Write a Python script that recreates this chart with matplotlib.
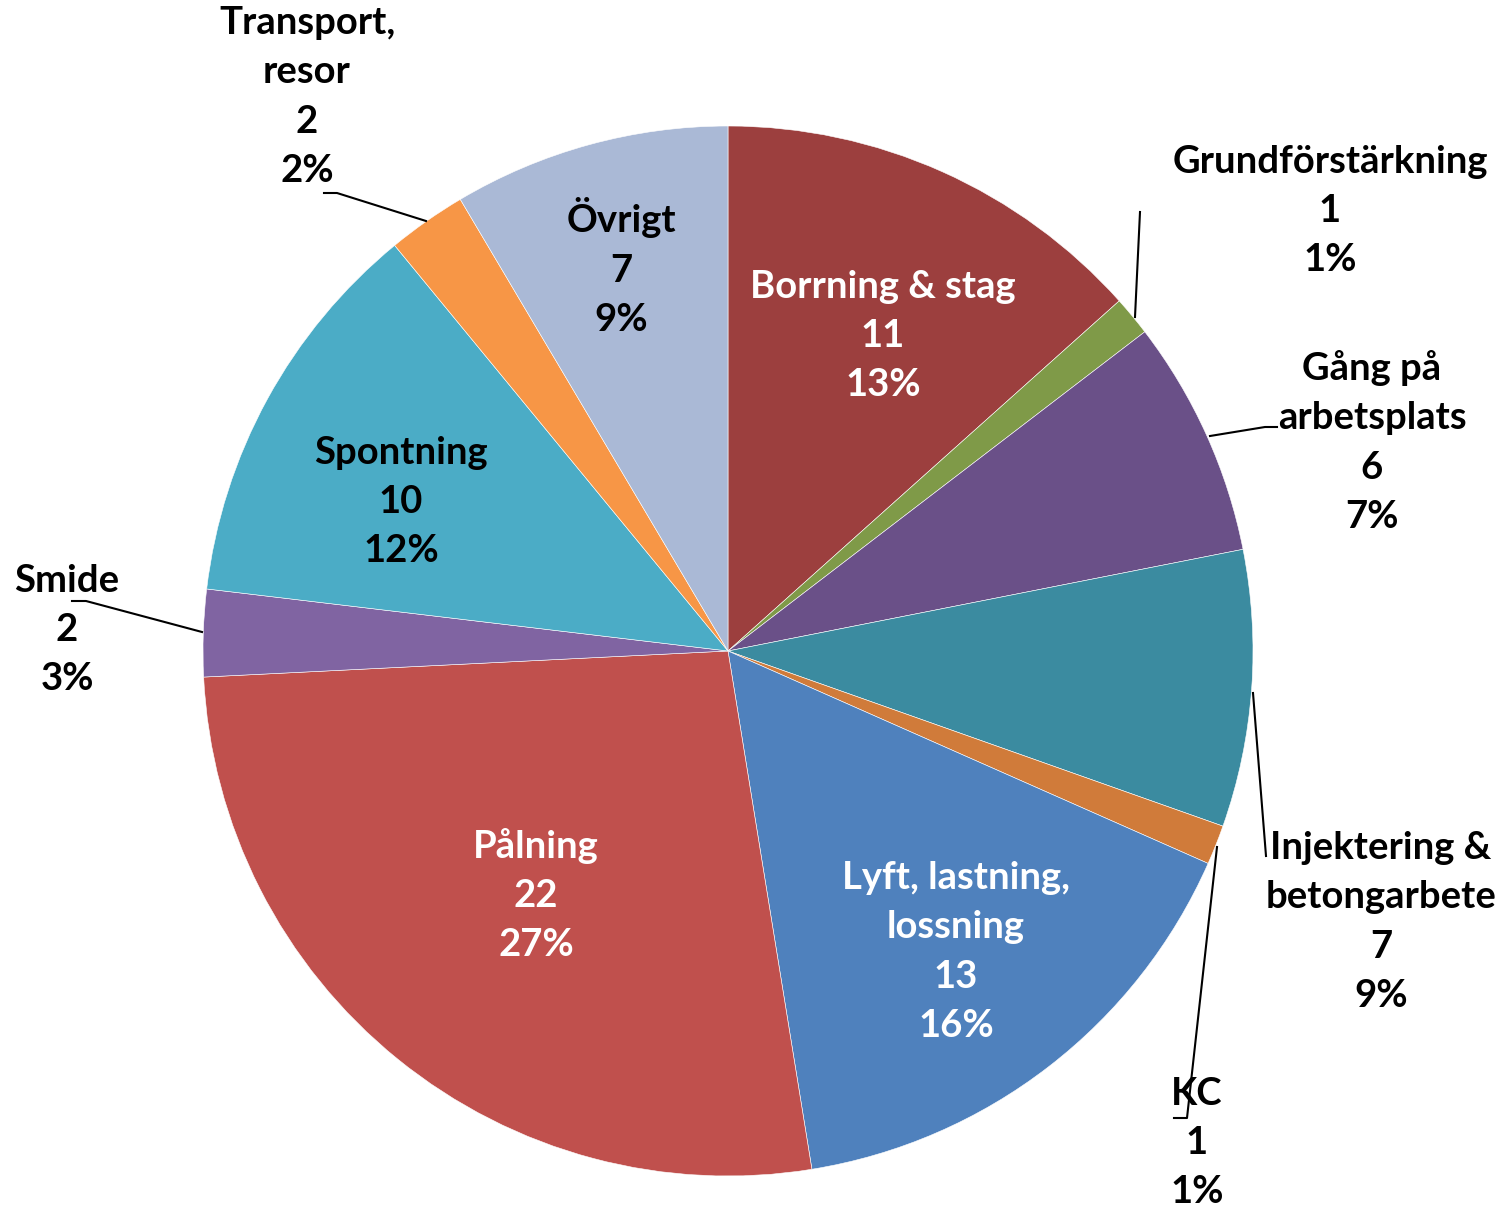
import matplotlib
matplotlib.use('Agg')
import matplotlib.pyplot as plt

W, H = 1502, 1210

categories = ['Borrning & stag', 'Grundförstärkning', 'Gång på\narbetsplats',
              'Injektering &\nbetongarbete', 'KC', 'Lyft, lastning,\nlossning', 'Pålning',
              'Smide', 'Spontning', 'Transport,\nresor', 'Övrigt']
values = [11, 1, 6, 7, 1, 13, 22, 2.2, 10, 2, 7]
colors = ['#9C3F3E', '#7F9A48', '#6A5088', '#3B8BA0', '#D07B3A', '#4F81BD',
          '#C0504D', '#8064A2', '#4BACC6', '#F79646', '#AAB9D6']
text_colors = ['white', 'black', 'black', 'black', 'black', 'white', 'white',
               'black', 'black', 'black', 'black']

# label centre positions in pixels (x, y from top)
LABEL_POS = [(883, 336), (1330, 211), (1372, 442), (1381, 922), (1197, 1143),
             (956, 952), (536, 895), (67, 630), (401, 502), (307, 97), (621, 267)]

# leader lines in pixels
LEADERS = [
    [(324, 193), (337, 193), (426, 221)],
    [(1140, 212), (1135, 317)],
    [(1277, 427), (1265, 427), (1210, 436)],
    [(1253, 693), (1266, 856)],
    [(1217, 847), (1187, 1118), (1174, 1118)],
    [(72, 601), (86, 601), (202, 632)],
]

CENTER = (728, 651)
RADIUS = 525

plt.rcParams['font.family'] = ['Lato', 'DejaVu Sans']

fig = plt.figure(figsize=(W / 100, H / 100), dpi=100)
ax = fig.add_axes([0, 0, 1, 1])

ax.pie(values, colors=colors, startangle=90, counterclock=False,
       center=(CENTER[0], H - CENTER[1]), radius=RADIUS,
       wedgeprops={'edgecolor': 'white', 'linewidth': 0.4}, frame=True)
ax.set_xlim(0, W)
ax.set_ylim(0, H)
ax.set_aspect('equal')
ax.axis('off')

total = sum(values)
for name, v, (px, py), tc in zip(categories, values, LABEL_POS, text_colors):
    label = '{}\n{}\n{}%'.format(name, int(round(v)), int(round(100 * v / total)))
    ax.text(px, H - py, label, ha='center', va='center', multialignment='center',
            fontsize=27.5, fontweight='bold', color=tc, linespacing=1.55)

for pts in LEADERS:
    xs = [p[0] for p in pts]
    ys = [H - p[1] for p in pts]
    ax.plot(xs, ys, color='black', linewidth=1.5)

fig.savefig('out.png', dpi=100)
